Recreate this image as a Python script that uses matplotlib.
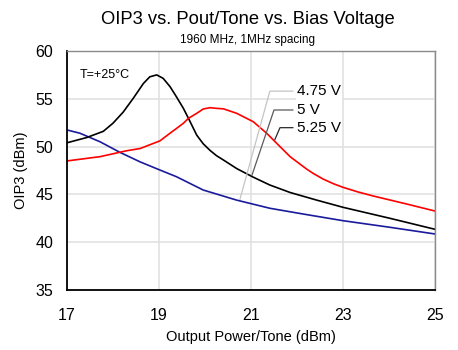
import matplotlib
matplotlib.use("Agg")
import matplotlib.pyplot as plt

plt.rcParams["font.family"] = ["Liberation Sans", "DejaVu Sans"]

# Output power per tone (dBm) and OIP3 (dBm) for each bias voltage
pout_475 = [17.0, 17.28, 17.72, 18.15, 18.59, 19.02, 19.38, 19.96, 20.69,
            21.41, 22.07, 23.0, 24.02, 25.0]
oip3_475 = [51.74, 51.4, 50.5, 49.4, 48.4, 47.55, 46.85, 45.46, 44.4,
            43.55, 43.0, 42.25, 41.56, 40.86]

pout_500 = [17.0, 17.43, 17.79, 18.0, 18.22, 18.44, 18.66, 18.8, 18.95,
            19.09, 19.24, 19.38, 19.53, 19.64, 19.82, 19.96, 20.11, 20.25,
            20.4, 20.69, 21.05, 21.41, 21.85, 22.43, 23.0, 24.02, 25.0]
oip3_500 = [50.4, 50.95, 51.6, 52.45, 53.6, 55.05, 56.6, 57.3, 57.5,
            57.14, 56.27, 55.2, 54.0, 52.96, 51.2, 50.3, 49.6, 49.05,
            48.6, 47.7, 46.8, 45.98, 45.2, 44.4, 43.65, 42.5, 41.35]

pout_525 = [17.0, 17.72, 18.3, 18.59, 19.02, 19.24, 19.38, 19.53, 19.64,
            19.82, 19.96, 20.11, 20.25, 20.4, 20.69, 21.05, 21.34, 21.63,
            21.85, 22.07, 22.21, 22.35, 22.57, 22.8, 23.0, 23.33, 23.66,
            24.38, 25.0]
oip3_525 = [48.5, 48.95, 49.57, 49.8, 50.6, 51.4, 51.9, 52.44, 52.96,
            53.48, 53.93, 54.07, 54.0, 53.95, 53.48, 52.6, 51.4, 50.0,
            48.95, 48.15, 47.65, 47.2, 46.6, 46.1, 45.74, 45.25, 44.83,
            44.0, 43.26]

x_ticks = [17, 19, 21, 23, 25]
y_ticks = [35, 40, 45, 50, 55, 60]

fig = plt.figure(figsize=(4.58, 3.5), dpi=100)
ax = fig.add_axes([0.1463, 0.1714, 0.8035, 0.6829])

ax.plot(pout_475, oip3_475, color="#1a1a9c", lw=1.2)
ax.plot(pout_500, oip3_500, color="black", lw=1.2)
ax.plot(pout_525, oip3_525, color="#ff0000", lw=1.2)

ax.set_xlim(17, 25)
ax.set_ylim(35, 60)
ax.set_xticks(x_ticks)
ax.set_yticks(y_ticks)
ax.tick_params(length=0, labelsize=11.5)
ax.tick_params(axis="y", pad=10)
ax.tick_params(axis="x", pad=13)
ax.grid(color="#e2e2e2", lw=1.2)
ax.set_axisbelow(True)
for side in ["left", "bottom"]:
    ax.spines[side].set_color("black")
    ax.spines[side].set_linewidth(1.3)
for side in ["top", "right"]:
    ax.spines[side].set_color("#8a8a8a")
    ax.spines[side].set_linewidth(1.0)

ax.set_xlabel("Output Power/Tone (dBm)", fontsize=10.5, labelpad=5)
ax.set_ylabel("OIP3 (dBm)", fontsize=10.5, labelpad=5)

fig.text(0.542, 0.943, "OIP3 vs. Pout/Tone vs. Bias Voltage", ha="center",
         va="center", fontsize=13.2)
fig.text(0.541, 0.886, "1960 MHz, 1MHz spacing", ha="center", va="center",
         fontsize=8.5)

ax.text(17.28, 57.5, "T=+25°C", ha="left", va="center", fontsize=9)

# leader lines from the bias labels to their curves
labels = ["4.75 V", "5 V", "5.25 V"]
lab_y = [55.8, 53.83, 51.98]
knee_x = [21.41, 21.5, 21.63]
tip = [(20.76, 44.5), (21.02, 47.0), (21.52, 50.75)]
lead_colors = ["#c4c4c4", "#5a5a5a", "#2a2a2a"]
for lab, ly, kx, (tx, ty), lc in zip(labels, lab_y, knee_x, tip, lead_colors):
    ax.plot([tx, kx, 21.91], [ty, ly, ly], color=lc, lw=0.9)
    ax.text(22.0, ly, lab, ha="left", va="center", fontsize=11,
            bbox=dict(facecolor="white", edgecolor="none", pad=1.0))

fig.savefig("out.png", dpi=100)
